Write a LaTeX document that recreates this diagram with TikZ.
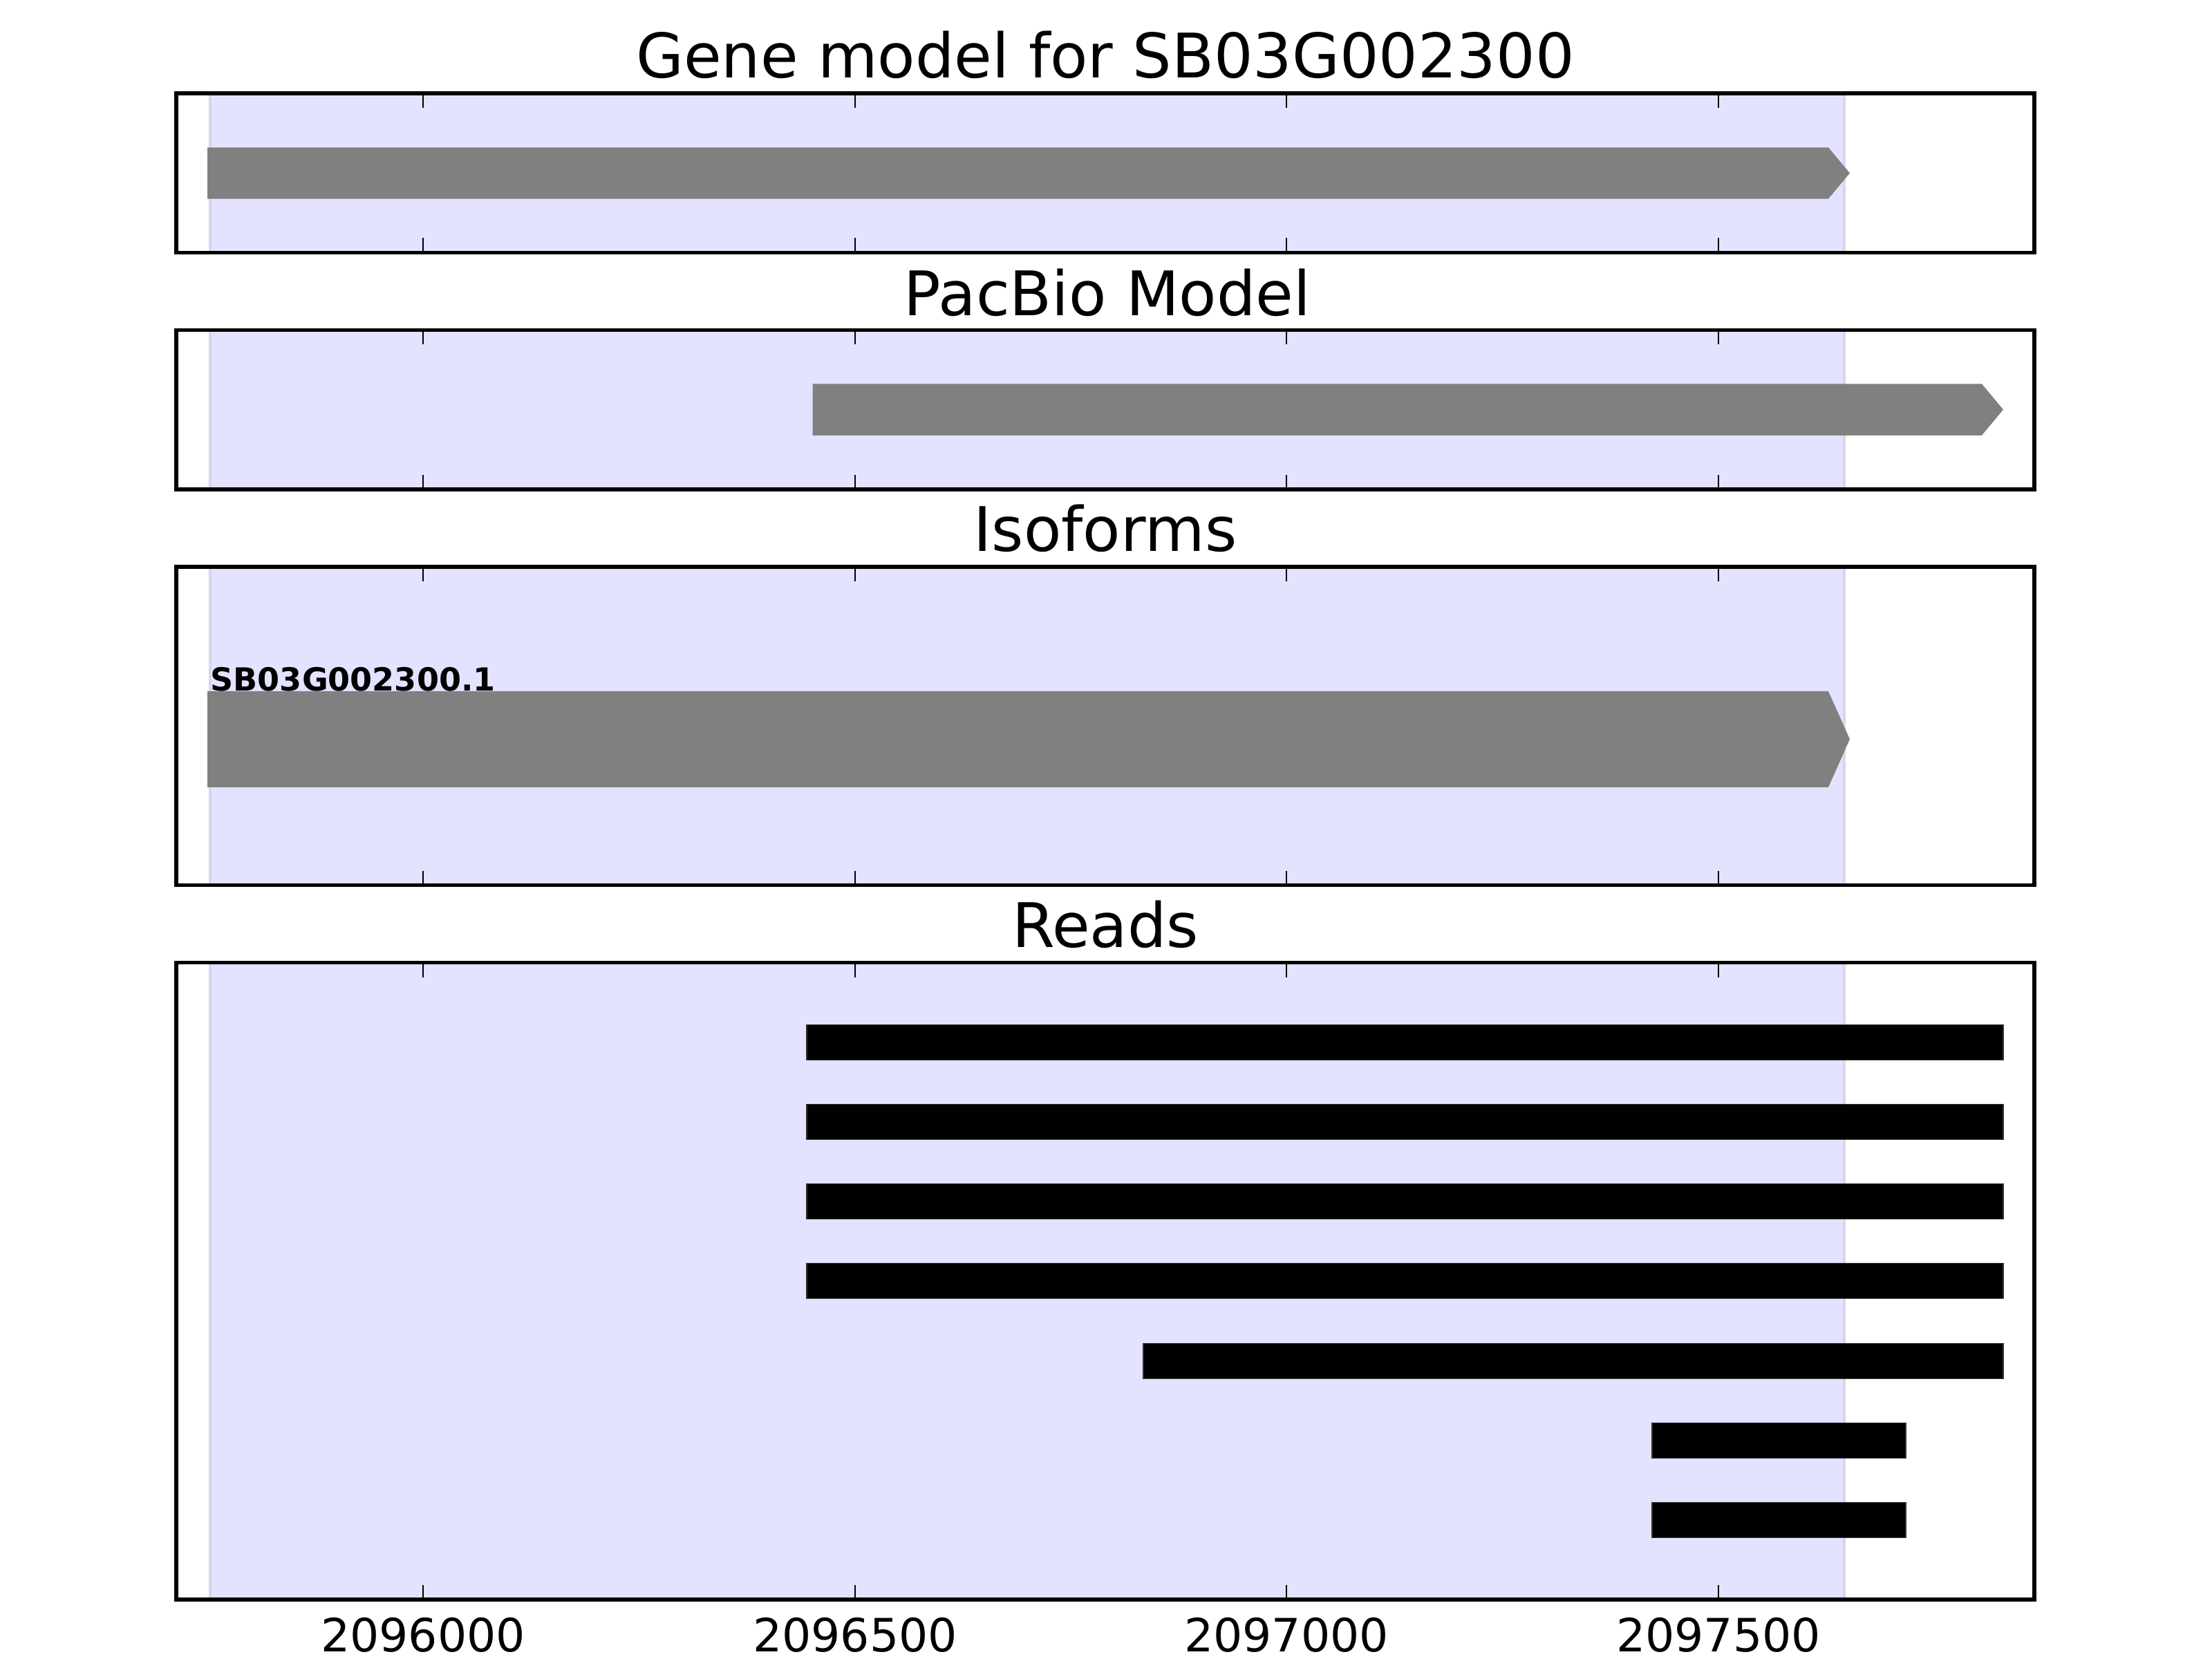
\documentclass[tikz,border=0pt]{standalone}
\usepackage{fontspec}
\setmainfont{DejaVu Sans}
\usepackage{tikz}

\definecolor{bandblue}{RGB}{227,227,255}
\definecolor{bandedge}{RGB}{214,214,236}

\begin{document}
\begin{tikzpicture}[
    x=1cm, y=1cm,
    panel/.style={draw=black, line width=1.56pt},
    feat/.style={fill=gray, draw=none},
    readbar/.style={fill=black, draw=black!80, line width=0.3pt},
    ptitle/.style={anchor=base, inner sep=0pt, font=\fontsize{25.3}{30}\selectfont},
    ticklbl/.style={anchor=base, inner sep=0pt, font=\fontsize{18.9}{22}\selectfont},
    tickmark/.style={line width=0.8pt}
]
\useasboundingbox (0,0) rectangle (32,24);

% the four panels, with the gene span shaded
\foreach \top/\bot in {22.65/20.346, 19.226/16.922, 15.802/11.194, 10.074/0.858}{
    \fill[bandblue] (3.04,\bot) rectangle (26.68,\top);
    \draw[bandedge, line width=1pt] (3.04,\bot) -- (3.04,\top) (26.68,\bot) -- (26.68,\top);
    \foreach \t in {6.12,12.37,18.61,24.86}{
        \draw[tickmark] (\t,\bot) -- ++(0,0.21);
        \draw[tickmark] (\t,\top) -- ++(0,-0.21);
    }
    \draw[panel] (2.55,\bot) rectangle (29.43,\top);
}

% titles
\node[ptitle] (tgene)   at (15.99,22.87) {Gene model for SB03G002300};
\node[ptitle] (tpacbio) at (16.02,19.43) {PacBio Model};
\node[ptitle] (tiso)    at (15.99,16.022) {Isoforms};
\node[ptitle] (treads)  at (15.99,10.294) {Reads};

% gene model
\fill[feat] (3.00,21.867) -- (26.45,21.867) -- (26.76,21.495) -- (26.45,21.123) -- (3.00,21.123) -- cycle;

% pacbio model
\fill[feat] (11.755,18.446) -- (28.67,18.446) -- (28.98,18.074) -- (28.67,17.702) -- (11.755,17.702) -- cycle;

% isoform
\fill[feat] (3.00,14.00) -- (26.45,14.00) -- (26.76,13.306) -- (26.45,12.612) -- (3.00,12.612) -- cycle;
\node[anchor=base west, inner sep=0pt, font=\bfseries\fontsize{13.1}{15}\selectfont] (isoname) at (3.04,14.00) {SB03G002300.1};

% reads
\foreach \i/\s/\e in {1/11.67/28.98, 2/11.67/28.98, 3/11.67/28.98, 4/11.67/28.98,
                      5/16.54/28.98, 6/23.90/27.57, 7/23.90/27.57}
    \filldraw[readbar] (\s,{10.074-\i*1.152-0.255}) rectangle (\e,{10.074-\i*1.152+0.255});

% x axis labels
\foreach \t/\lab in {6.12/2096000, 12.37/2096500, 18.61/2097000, 24.86/2097500}
    \node[ticklbl] (x\lab) at (\t,0.10) {\lab};
\end{tikzpicture}
\end{document}
